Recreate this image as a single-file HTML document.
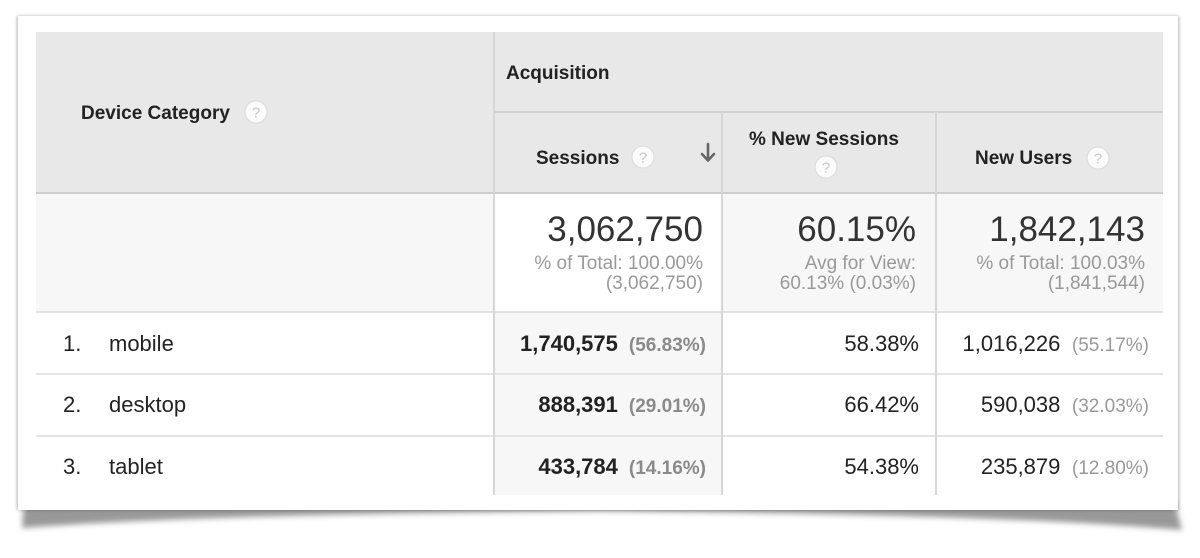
<!DOCTYPE html>
<html>
<head>
<meta charset="utf-8">
<style>
  html, body { margin: 0; padding: 0; background: #ffffff; }
  body { width: 1200px; height: 558px; overflow: hidden; }
  svg { display: block; }
  text { font-family: "Liberation Sans", Arial, Helvetica, sans-serif; }
</style>
</head>
<body>
<svg width="1200" height="558" viewBox="0 0 1200 558" xmlns="http://www.w3.org/2000/svg">
  <defs>
    <filter id="b1" x="-5%" y="-5%" width="110%" height="110%">
      <feGaussianBlur stdDeviation="1.5"/>
    </filter>
    <filter id="b3" x="-5%" y="-50%" width="110%" height="200%">
      <feGaussianBlur stdDeviation="3"/>
    </filter>
    <filter id="ib" x="-50%" y="-50%" width="200%" height="200%">
      <feGaussianBlur stdDeviation="0.8"/>
    </filter>
  </defs>

  <!-- page background -->
  <rect x="0" y="0" width="1200" height="558" fill="#ffffff"/>

  <!-- curled bottom shadow -->
  <path d="M 24,500 L 1174,500 L 1182,530 Q 1000,514 600,511 Q 200,514 22,528 Z" fill="#555" opacity="0.6" filter="url(#b3)"/>
  <!-- edge shadow -->
  <rect x="17" y="16" width="1162" height="494" fill="#000" opacity="0.3" filter="url(#b1)"/>

  <!-- card -->
  <rect x="18" y="16" width="1160" height="494" fill="#ffffff"/>

  <!-- header background -->
  <rect x="36" y="32" width="1127" height="161" fill="#e8e8e8"/>
  <!-- totals row background -->
  <rect x="36" y="193" width="1127" height="119" fill="#f7f7f7"/>
  <rect x="494" y="193" width="228" height="119" fill="#ffffff"/>
  <!-- sorted column in data rows -->
  <rect x="494" y="312" width="228" height="183" fill="#f7f7f7"/>

  <!-- horizontal lines -->
  <rect x="494" y="111" width="669" height="2" fill="#d2d2d2"/>
  <rect x="36" y="192" width="1127" height="2" fill="#cdcdcd"/>
  <rect x="36" y="311" width="1127" height="2" fill="#e2e2e2"/>
  <rect x="36" y="373" width="1127" height="2" fill="#e4e4e4"/>
  <rect x="36" y="435" width="1127" height="2" fill="#e4e4e4"/>

  <!-- vertical lines -->
  <rect x="493" y="32" width="2" height="463" fill="#d6d6d6"/>
  <rect x="721" y="112" width="2" height="383" fill="#d6d6d6"/>
  <rect x="935" y="112" width="2" height="383" fill="#d6d6d6"/>

  <!-- header texts -->
  <g font-size="19" font-weight="bold" fill="#222">
    <text x="81" y="119">Device Category</text>
    <text x="506" y="79">Acquisition</text>
    <text x="536" y="164">Sessions</text>
    <text x="749" y="145">% New Sessions</text>
    <text x="975" y="164">New Users</text>
  </g>

  <!-- help icons -->
  <g>
    <circle cx="256" cy="112" r="11" fill="#cfcfcf" filter="url(#ib)"/>
    <circle cx="256" cy="112" r="10.5" fill="#fbfbfb"/>
    <text x="256" y="117.5" font-size="15" text-anchor="middle" fill="#c8c8c8">?</text>

    <circle cx="643" cy="157" r="11" fill="#cfcfcf" filter="url(#ib)"/>
    <circle cx="643" cy="157" r="10.5" fill="#fbfbfb"/>
    <text x="643" y="162.5" font-size="15" text-anchor="middle" fill="#c8c8c8">?</text>

    <circle cx="826" cy="167" r="11" fill="#cfcfcf" filter="url(#ib)"/>
    <circle cx="826" cy="167" r="10.5" fill="#fbfbfb"/>
    <text x="826" y="172.5" font-size="15" text-anchor="middle" fill="#c8c8c8">?</text>

    <circle cx="1098" cy="158" r="11" fill="#cfcfcf" filter="url(#ib)"/>
    <circle cx="1098" cy="158" r="10.5" fill="#fbfbfb"/>
    <text x="1098" y="163.5" font-size="15" text-anchor="middle" fill="#c8c8c8">?</text>
  </g>

  <!-- sort arrow -->
  <g stroke="#666" stroke-width="2.6" fill="none" stroke-linecap="round" stroke-linejoin="round">
    <line x1="708" y1="144" x2="708" y2="160"/>
    <polyline points="702,154 708,160.5 714,154"/>
  </g>

  <!-- totals -->
  <g text-anchor="end">
    <text x="703" y="241" font-size="35" fill="#333">3,062,750</text>
    <text x="703" y="269" font-size="19" fill="#999">% of Total: 100.00%</text>
    <text x="703" y="289" font-size="19" fill="#999">(3,062,750)</text>

    <text x="916" y="241" font-size="35" fill="#333">60.15%</text>
    <text x="916" y="269" font-size="19" fill="#999">Avg for View:</text>
    <text x="916" y="289" font-size="19" fill="#999">60.13% (0.03%)</text>

    <text x="1145" y="241" font-size="35" fill="#333">1,842,143</text>
    <text x="1145" y="269" font-size="19" fill="#999">% of Total: 100.03%</text>
    <text x="1145" y="289" font-size="19" fill="#999">(1,841,544)</text>
  </g>

  <!-- data rows: labels -->
  <g font-size="22" fill="#222">
    <text x="63" y="351">1.</text>
    <text x="109" y="351">mobile</text>
    <text x="63" y="412">2.</text>
    <text x="109" y="412">desktop</text>
    <text x="63" y="474">3.</text>
    <text x="109" y="474">tablet</text>
  </g>

  <!-- sessions values -->
  <g text-anchor="end" fill="#222">
    <text x="706" y="351"><tspan font-size="22" font-weight="bold">1,740,575</tspan><tspan dx="11" font-size="19" font-weight="bold" fill="#8a8a8a">(56.83%)</tspan></text>
    <text x="706" y="412"><tspan font-size="22" font-weight="bold">888,391</tspan><tspan dx="11" font-size="19" font-weight="bold" fill="#8a8a8a">(29.01%)</tspan></text>
    <text x="706" y="474"><tspan font-size="22" font-weight="bold">433,784</tspan><tspan dx="11" font-size="19" font-weight="bold" fill="#8a8a8a">(14.16%)</tspan></text>
  </g>

  <!-- % new sessions -->
  <g text-anchor="end" font-size="22" fill="#222">
    <text x="919" y="351">58.38%</text>
    <text x="919" y="412">66.42%</text>
    <text x="919" y="474">54.38%</text>
  </g>

  <!-- new users -->
  <g text-anchor="end" fill="#222">
    <text x="1149" y="351"><tspan font-size="22">1,016,226</tspan><tspan dx="11.5" font-size="19" fill="#999">(55.17%)</tspan></text>
    <text x="1149" y="412"><tspan font-size="22">590,038</tspan><tspan dx="11.5" font-size="19" fill="#999">(32.03%)</tspan></text>
    <text x="1149" y="474"><tspan font-size="22">235,879</tspan><tspan dx="11.5" font-size="19" fill="#999">(12.80%)</tspan></text>
  </g>
</svg>
</body>
</html>
